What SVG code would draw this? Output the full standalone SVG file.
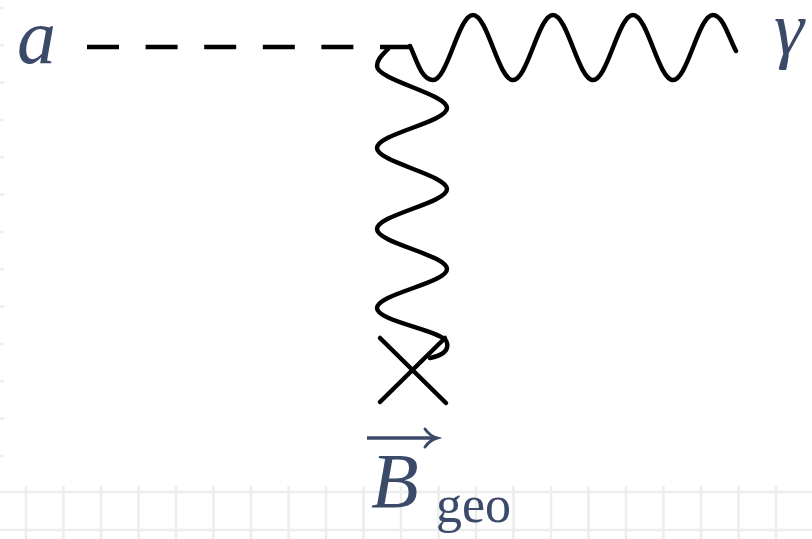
<svg xmlns="http://www.w3.org/2000/svg" width="812" height="539" viewBox="0 0 812 539">
  <style>
    .grid { stroke: #ededed; stroke-width: 2.5; fill: none; }
    .line { stroke: #000; stroke-width: 4.5; fill: none; stroke-linecap: round; stroke-linejoin: round; }
    .dash { stroke: #000; stroke-width: 4.5; fill: none; stroke-dasharray: 32 26.6; }
    .lbl { fill: #3c4a6a; font-family: "Liberation Serif", "Times New Roman", serif; }
    .it { font-style: italic; }
  </style>
  <rect width="812" height="539" fill="#fff"/>
  <g id="grid">
    <path class="grid" d="M0,492 H812 M0,530 H812"/>
    <path class="grid" d="M26,486 V539 M63.5,486 V539 M101,486 V539 M138.5,486 V539 M176,486 V539 M213.5,486 V539 M251,486 V539 M288.5,486 V539 M326,486 V539 M363.5,486 V539 M401,486 V539 M438.5,486 V539 M476,486 V539 M513.5,486 V539 M551,486 V539 M588.5,486 V539 M626,486 V539 M663.5,486 V539 M701,486 V539 M738.5,486 V539 M776,486 V539"/>
    <path class="grid" d="M0,8 H4 M0,45.3 H4 M0,82.6 H4 M0,120 H4 M0,157.3 H4 M0,194.6 H4 M0,232 H4 M0,269.3 H4 M0,306.6 H4 M0,344 H4 M0,381.3 H4 M0,418.6 H4 M0,456 H4"/>
  </g>
  <g id="connectors">
    <path id="axion" class="dash" d="M87,47 H413"/>
    <path id="photon" class="line" d="M410,46 C416,58 421,80 433,80 C447.6,80 458.4,15 473,15 C487.6,15 498.4,80 513,80 C527.6,80 538.4,15 553,15 C567.6,15 578.4,80 593,80 C607.6,80 618.4,15 633,15 C647.6,15 658.4,80 673,80 C687.6,80 698.4,15 713,15 C723,15 729,38 736,51"/>
    <path id="bfield" class="line" d="M388,49 C381,56 377,60 377,66 C377,80 447,94 447,108 C447,122 377,134 377,148 C377,162 447,175 447,189 C447,203 377,215 377,229 C377,243 447,255 447,269 C447,283 377,294 377,308 C377,322 447,331 447,343 C449,352 440,356 430,358"/>
  </g>
  <g id="node-a">
    <text class="lbl it" x="17" y="63" font-size="78">a</text>
  </g>
  <g id="node-gamma">
    <text class="lbl it" x="774" y="54" font-size="76">γ</text>
  </g>
  <g id="node-cross">
    <path class="line" d="M380,338 L446,403 M380,402 L445,338"/>
  </g>
  <g id="node-B">
    <path d="M367,438 H434" stroke="#3c4a6a" stroke-width="3.5" fill="none"/>
    <path d="M425,429 Q430,436 437,438 Q430,440 425,447" stroke="#3c4a6a" stroke-width="3" fill="none" stroke-linecap="round"/>
    <text class="lbl it" x="371" y="507" font-size="78">B</text>
    <text class="lbl" x="436" y="522" font-size="52">geo</text>
  </g>
</svg>
